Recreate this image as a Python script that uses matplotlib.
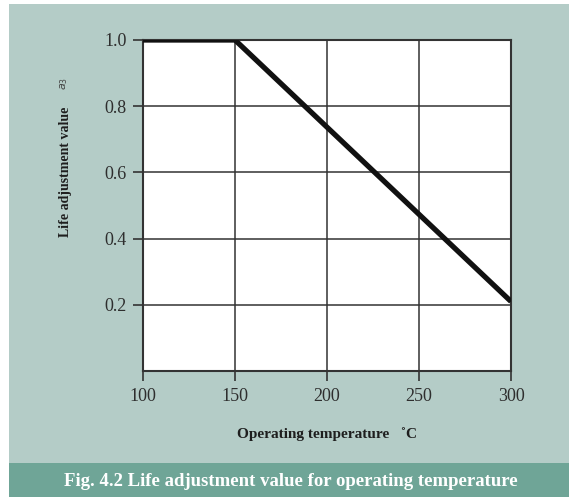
import matplotlib
matplotlib.use("Agg")
import matplotlib.pyplot as plt
from matplotlib.patches import Rectangle

# Data: life adjustment value a3 versus operating temperature
temperature = [100, 150, 300]
adjustment = [1.0, 1.0, 0.21]
x_ticks = [100, 150, 200, 250, 300]
y_ticks = [0.2, 0.4, 0.6, 0.8, 1.0]
x_tick_labels = ["100", "150", "200", "250", "300"]
y_tick_labels = ["0.2", "0.4", "0.6", "0.8", "1.0"]

bg = "#b4ccc7"
bar = "#6fa597"
ink = "#1e1e1e"
serif = ["Liberation Serif", "DejaVu Serif"]

fig = plt.figure(figsize=(5.69, 4.97), dpi=100)
fig.patch.set_facecolor("white")

# panel background and caption bar
fig.add_artist(Rectangle((9 / 569, 0), 1, 1 - 4 / 497, transform=fig.transFigure,
                         facecolor=bg, edgecolor="none", zorder=0))
fig.add_artist(Rectangle((9 / 569, 0), 1, 34 / 497, transform=fig.transFigure,
                         facecolor=bar, edgecolor="none", zorder=0))

ax = fig.add_axes([143 / 569, 1 - 371 / 497, 368 / 569, 331 / 497])
ax.set_facecolor("white")
ax.plot(temperature, adjustment, color="#111111", lw=3.8, solid_capstyle="butt",
        solid_joinstyle="miter", zorder=3)

ax.set_xlim(100, 300)
ax.set_ylim(0, 1.0)
ax.set_xticks(x_ticks)
ax.set_xticklabels(x_tick_labels)
ax.set_yticks(y_ticks)
ax.set_yticklabels(y_tick_labels)
ax.grid(True, color="#333333", lw=1.1, zorder=1)
for s in ax.spines.values():
    s.set_color("#333333")
    s.set_linewidth(1.5)
ax.tick_params(direction="out", length=7, width=1.2, color="#333333",
               labelsize=13, labelcolor="#2e2e2e", pad=5)
for lab in ax.get_xticklabels() + ax.get_yticklabels():
    lab.set_fontfamily(serif)

fig.text(327 / 569, 1 - 434 / 497, "Operating temperature   \u02daC", ha="center", va="center",
         fontsize=11, fontweight="bold", color=ink, family=serif)
fig.text(66 / 569, 1 - 172 / 497, "Life adjustment value", ha="center", va="center",
         rotation=90, fontsize=10, fontweight="bold", color=ink, family=serif)
fig.text(64 / 569, 1 - 83 / 497, "$a_3$", ha="center", va="center", rotation=90,
         fontsize=8, color="#444444")

fig.text(291 / 569, 1 - 481 / 497, "Fig. 4.2 Life adjustment value for operating temperature",
         ha="center", va="center", fontsize=13.5, fontweight="bold", color="white",
         family=serif)

fig.savefig("out.png", dpi=100, facecolor=fig.get_facecolor())
